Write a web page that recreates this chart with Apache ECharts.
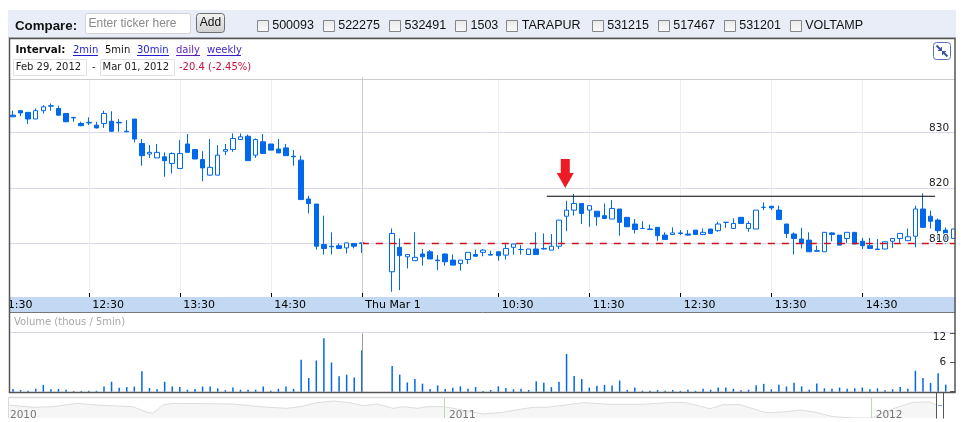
<!DOCTYPE html>
<html>
<head>
<meta charset="utf-8">
<style>html,body{margin:0;padding:0;background:#fff}#c{width:966px;height:422px}</style>
<script src="https://cdn.jsdelivr.net/npm/echarts@6/dist/echarts.min.js"></script>
</head>
<body>
<div id="c"></div>
<script>
const categories = ['11:40','11:45','11:50','11:55','12:00','12:05','12:10','12:15','12:20','12:25','12:30','12:35','12:40','12:45','12:50','12:55','13:00','13:05','13:10','13:15','13:20','13:25','13:30','13:35','13:40','13:45','13:50','13:55','14:00','14:05','14:10','14:15','14:20','14:25','14:30','14:35','14:40','14:45','14:50','14:55','15:00','15:05','15:10','15:15','15:20','15:25','Thu Mar 1','9:05','9:10','9:15','9:20','9:25','9:30','9:35','9:40','9:45','9:50','9:55','10:00','10:05','10:10','10:15','10:20','10:25','10:30','10:35','10:40','10:45','10:50','10:55','11:00','11:05','11:10','11:15','11:20','11:25','11:30','11:35','11:40 ','11:45 ','11:50 ','11:55 ','12:00 ','12:05 ','12:10 ','12:15 ','12:20 ','12:25 ','12:30 ','12:35 ','12:40 ','12:45 ','12:50 ','12:55 ','13:00 ','13:05 ','13:10 ','13:15 ','13:20 ','13:25 ','13:30 ','13:35 ','13:40 ','13:45 ','13:50 ','13:55 ','14:00 ','14:05 ','14:10 ','14:15 ','14:20 ','14:25 ','14:30 ','14:35 ','14:40 ','14:45 ','14:50 ','14:55 ','15:00 ','15:05 ','15:10 ','15:15 ','15:20 ','15:25 ','15:30 '];
const tickLabels = ['12:30','13:30','14:30','Thu Mar 1','10:30','11:30','12:30 ','13:30 ','14:30 '];

const opens = [833.1,833.9,833.6,832.4,833.9,834.7,834.3,833.4,832.7,831.6,831.8,831.3,831.6,832,831.8,830.2,832.4,828,826.1,825.4,825.6,824.4,823.5,827.9,826.9,825.1,822.3,822.3,826.6,826.9,828.7,829.3,825.9,828.3,827.9,827,827.2,825.7,825,818,817.1,809.8,809.5,809.6,809.2,810,810.1,null,null,null,804.9,809.3,807.6,806.9,808.1,808.5,807,808.1,807,806.4,807.1,808,808.4,808,808.5,807.9,809.3,808.9,808,809,809.1,808.8,809.5,814.9,816,817.2,816,815.8,815,814.4,816.2,814.7,813.5,812.7,812.6,812.9,811.5,811.6,811.9,811.7,812.4,811.6,812.6,812.3,813.8,812.7,814.7,812.7,812.6,816.5,816.7,816,813.5,811.7,810.8,810.6,808.7,808.5,811.9,811.5,810.9,812,810.4,809.6,809,809,810.4,810.9,810.5,811.3,816.2,814.9,814.2,812.4,810.9];
const closes = [832.8,833.5,832.4,833.9,834.6,834.8,833.1,831.9,832.6,831.2,831.7,830.8,833.4,830.2,831.7,830.1,828.8,825.8,826.4,826.4,824.9,826.2,826.2,826.4,825.2,823.6,823.7,825.9,826.9,828.9,829.2,824.9,828.7,826.2,826.8,826.3,825.8,825.6,817.9,817.2,809.5,809.1,809.4,809.1,810.1,809.5,810,null,null,null,811.8,807.8,808,807.5,807.6,807.2,806.9,806.7,806.1,807,808.4,807.7,808.8,807.9,807.8,809.1,809.9,808.9,809,808,809,809.5,814.2,816,817.2,815.4,816.8,814.8,814.5,816.3,813.8,813,812.5,812.7,812.5,811.4,810.7,811.9,811.8,811.5,811.6,812,811.8,813.5,813.8,813.6,813.6,813.6,816,816.5,816.4,814.3,811.8,810.9,810,808.5,808.6,812,811.6,809.7,812,809.9,809.6,809.1,808.9,810.3,810.9,811.8,811.2,816.2,812.9,814,812.3,810.5,812.6];
const lows = [832.8,832.9,831.5,832.4,833.4,833.9,833,831.9,831.9,831.1,831.3,830.7,830.8,830.1,830.1,830.1,828.2,824,825.4,825.4,822,822.6,823.5,826.4,825.2,821.2,822.2,822.3,825.9,826.5,828.6,824.9,825.4,826.2,826.8,826.3,825.8,824,817.9,815.4,808.9,808,808,809.1,808.2,809.1,808.3,null,null,null,801.3,801.6,805.5,806.9,806,807.2,805.2,806,806.1,805.1,806.3,807.6,807.7,807.9,806.9,807.1,808,808,808,808,808.9,808.8,809,812.2,815,813.5,813,813.2,814.5,814.4,811.4,813,811.8,812.7,812.5,810.5,810.7,811.6,811.5,811.4,811.6,811.6,811.8,812.1,812.8,812.7,813.6,812.1,812.6,816,816,814.3,811,808,809.1,808.5,808.6,808.5,810.4,809.7,810.1,809.9,809,809.1,808.8,809,809.2,810.1,810.5,809.3,812.9,812.7,810,810,810.9];
const highs = [833.9,834,833.6,834.3,834.9,835.2,834.8,833.4,832.7,831.9,832.7,831.9,833.9,833.8,832.4,832.2,832.4,828.8,827.7,827.9,826.4,826.4,828.6,829.7,826.9,826.6,828.8,827.7,827.9,829.8,829.8,829.6,828.9,829.7,827.9,828.8,827.9,826.8,825.8,818.6,817.1,815,812,810,810.1,810,810.1,null,null,null,812.7,810.9,808,812,809,808.8,807.9,808.2,808,807,808.4,808.9,809,808.7,808.5,809.9,809.9,809.7,809,812,811.8,811.7,814.2,817.7,818.9,817.2,816.8,815.8,817.2,817.8,816.2,814.7,814.4,814,813.4,812.9,812,812.9,812.4,812.4,812.4,812.7,812.6,813.9,813.8,814.5,814.7,814,816,817.4,816.7,816.8,813.5,812,812.8,812,809.6,812,812,811.5,812,812,811,811,810.8,810.3,810.9,811.8,812.7,816.8,819,815.9,814.5,812.9,812.6];
const volumes = [0.55,0.35,0.2,0.6,1.4,0.5,0.55,0.4,0.15,0.15,0.2,0.2,1.05,2.05,0.8,0.95,1.05,4.2,0.75,0.5,2.05,1.05,0.95,0.4,0.55,1.05,1.05,0.7,0.3,0.85,0.4,0.4,0.4,1.05,0.2,0.6,1.05,0.6,6.55,2.8,6.4,11,6,3.2,3.5,2.9,8.5,null,null,null,5.3,3.5,1.9,2.6,1.65,0.55,1.3,0.55,0.8,1.1,0.6,0.95,0.15,0.35,1.1,0.75,0.5,0.6,0.35,2.15,1.85,0.95,2.05,7.75,3.25,2.6,0.85,1.2,1.4,1.25,2.3,0.35,0.85,0.2,0.2,0.35,0.2,0.35,0.2,0.4,0.2,0.6,0.4,0.85,0.85,0.6,0.3,0.4,1.3,1.6,0.5,1.45,1.05,1.85,1.1,0.4,1.7,0.7,0.6,0.85,0.6,0.7,0.85,0.5,0.7,0.3,0.5,0.95,0.6,4.3,2.8,1.8,3.8,1.45,null];

const previousClose = 810;
const dayBoundaryIndex = 46;
const resistanceLevel = 818.5;
const resistanceFrom = 70.4;
const resistanceTo = 121.6;
const arrowIndex = 72.83;
const arrowPrice = 822.6;

const overviewX = [0,24,44,68,88,124,138,144,154,164,224,258,278,291,308,324,341,354,368,384,394,408,418,434,444,474,494,507,524,537,554,574,601,634,664,677,701,714,731,757,774,791,807,824,847,862,887,904,921,927];
const overviewLevels = [13,10.7,11.3,14.7,13,11.3,5.7,5,13,14.7,14,10.7,9.7,11.3,15.3,17,15.3,12.3,14,9.7,11.3,9.7,11.3,11.3,9.7,4,5.7,8,10.7,10.7,12.7,15.3,13.7,13.7,15.7,15.3,9.3,13.3,13.3,5.3,6,8,5.7,1.3,0,0,10.3,15.7,16,13];

const compareTickers = ['500093','522275','532491','1503','TARAPUR','531215','517467','531201','VOLTAMP'];
const compareX = [256.7,322.7,389,455,506.3,591.7,657.7,723.7,789.7];
const yearLabels = ['2010','2011','2012'];

const BLUE = '#0068EA';
const V = '"DejaVu Sans",Verdana,sans-serif';
const A = '"Liberation Sans",Arial,sans-serif';

function txt(text, x, y, font, fill, z, align) {
  return {type:'text', z:z||8, silent:true, style:{x:x, y:y, text:text, font:font, fill:fill, textVerticalAlign:'middle', textAlign:align||'left'}};
}
function box(x, y, w, h, fill, stroke, z, r) {
  return {type:'rect', z:z||8, silent:true, shape:{x:x, y:y, width:w, height:h, r:r||0}, style:{fill:fill, stroke:stroke||null, lineWidth:1}};
}
function seg(x1, y1, x2, y2, stroke, z, w) {
  return {type:'line', z:z||8, silent:true, shape:{x1:x1, y1:y1, x2:x2, y2:y2}, style:{stroke:stroke, lineWidth:w||1}};
}
function vgrad(a, b) {
  return {type:'linear', x:0, y:0, x2:0, y2:1, colorStops:[{offset:0,color:a},{offset:1,color:b}]};
}

const chrome = [
  box(9, 39, 946, 40, '#fff', null, 3),
  seg(10, 79.5, 955, 79.5, '#CDCDCD', 3),
  box(10, 297, 946, 15, '#C3D9F3', null, 3),
  txt('11:30', 0.8, 305.5, '11px '+V, '#000', 5),
  box(0, 296, 9.5, 17, '#fff', null, 6),
  seg(10, 312.5, 955, 312.5, '#777', 6),
  seg(11, 332.5, 955, 332.5, '#D8D6EE', 3),
  txt('Volume (thous / 5min)', 14, 322.5, '10px '+V, '#A8A8A8', 6),
  box(955.5, 0, 11, 422, '#fff', null, 7),
  box(8, 10, 948, 27.5, '#E8EDF8', null, 8),
  seg(8, 37.5, 956, 37.5, '#BFC3CC', 8),
  txt('Compare:', 15, 26, 'bold 13.3px '+A, '#111', 9),
  box(85.5, 13.5, 105, 20, '#fff', '#D4D4D4', 9, 2),
  txt('Enter ticker here', 88.5, 23.5, '12px '+A, '#8A8A8A', 9),
  box(196.5, 13.5, 28, 19, vgrad('#F4F4F4','#CFCFCF'), '#6E6E6E', 9, 3),
  txt('Add', 210.5, 22.5, '12px '+A, '#111', 9, 'center'),
  {type:'rect', z:10, silent:true, shape:{x:9.5, y:38.5, width:945.5, height:354}, style:{fill:null, stroke:'#555', lineWidth:1.5}},
  txt('Interval:', 15.5, 50.5, 'bold 10.4px '+V, '#111', 9),
  txt('2min', 73, 50.5, '10px '+V, '#1F1FCC', 9),
  seg(73, 55.5, 98, 55.5, '#1F1FCC', 9),
  txt('5min', 105, 50.5, '10px '+V, '#111', 9),
  txt('30min', 137, 50.5, '10px '+V, '#1F1FCC', 9),
  seg(137, 55.5, 169, 55.5, '#1F1FCC', 9),
  txt('daily', 176, 50.5, '10px '+V, '#5A1FB8', 9),
  seg(176, 55.5, 200, 55.5, '#5A1FB8', 9),
  txt('weekly', 207, 50.5, '10px '+V, '#3A1FC8', 9),
  seg(207, 55.5, 241, 55.5, '#3A1FC8', 9),
  box(13.5, 59.5, 73, 16, '#fff', '#E2E2E2', 9),
  txt('Feb 29, 2012', 15.7, 67.5, '10px '+V, '#222', 9),
  txt('-', 92, 67.5, '10px '+V, '#222', 9),
  box(100.5, 59.5, 74, 16, '#fff', '#E2E2E2', 9),
  txt('Mar 01, 2012', 102.5, 67.5, '10px '+V, '#222', 9),
  txt('-20.4 (-2.45%)', 179, 67.5, '10px '+V, '#C8103C', 9),
  box(933.5, 42.5, 17, 17, '#fff', '#5A70C4', 9, 3),
  seg(936.5, 45.5, 940, 49, '#3A52A8', 9, 2),
  {type:'polygon', z:9, silent:true, shape:{points:[[942,51],[942,46.5],[937.5,51]]}, style:{fill:'#3A52A8'}},
  seg(947.5, 56.5, 944, 53, '#3A52A8', 9, 2),
  {type:'polygon', z:9, silent:true, shape:{points:[[942,51],[942,55.5],[946.5,51]]}, style:{fill:'#3A52A8'}},
  seg(8, 397.5, 936, 397.5, '#DADADA', 5, 1.5),
  seg(8.5, 397, 8.5, 418, '#DADADA', 5),
  seg(444.5, 398, 444.5, 418, '#BFD8B8', 5),
  seg(871.5, 398, 871.5, 418, '#BFD8B8', 5),
  seg(936.5, 393, 936.5, 419, '#555', 5),
  seg(943.5, 393, 943.5, 419, '#555', 5),
  seg(938, 405.5, 942, 405.5, '#7FA7DC', 5),
  box(0, 418.5, 966, 4, '#fff', null, 6),
  txt(yearLabels[0], 10, 415, '10.5px '+V, '#777', 7),
  txt(yearLabels[1], 449, 415, '10.5px '+V, '#777', 7),
  txt(yearLabels[2], 875.7, 415, '10.5px '+V, '#777', 7)
];
compareTickers.forEach(function (t, i) {
  const x = compareX[i];
  chrome.push(box(Math.round(x)+0.5, 20.5, 11, 11, vgrad('#E9E9E9','#FBFBFB'), '#868686', 9));
  chrome.push(txt(t, x+15.5, 25.5, '12.5px '+A, '#111', 9));
});

const candleData = categories.map(function (_, i) {
  return opens[i] == null ? ['-','-','-','-'] : [opens[i], closes[i], lows[i], highs[i]];
});
const tickFilter = function (i, v) { return tickLabels.indexOf(v) >= 0; };
const GRID_LEFT = 9.2, GRID_WIDTH = 947.9;

const option = {
  animation:false,
  backgroundColor:'#fff',
  grid:[
    {left:GRID_LEFT, width:GRID_WIDTH, top:76.8, height:222.2},
    {left:GRID_LEFT, width:GRID_WIDTH, top:333.3, height:58.4},
    {left:9, width:927, top:397, height:21},
    {left:GRID_LEFT, width:GRID_WIDTH, top:80, height:217}
  ],
  xAxis:[
    {type:'category', gridIndex:0, data:categories, z:5, offset:-2, boundaryGap:true,
      axisLine:{show:false, onZero:false},
      axisTick:{show:true, inside:true, length:4, alignWithLabel:true, interval:tickFilter, lineStyle:{color:'#000'}},
      axisLabel:{show:true, interval:tickFilter, margin:3, align:'left', verticalAlign:'top', padding:[0,0,0,3.5],
        color:'#000', fontFamily:V, fontSize:11, hideOverlap:false, formatter:function (v) { return v.trim(); }},
      splitLine:{show:false}},
    {type:'value', gridIndex:0, min:-0.5, max:124.5, show:false},
    {type:'category', gridIndex:1, data:categories, show:false},
    {type:'value', gridIndex:2, min:0, max:927, show:false},
    {type:'category', gridIndex:3, data:categories, z:0,
      axisLine:{show:false, onZero:false}, axisTick:{show:false}, axisLabel:{show:false},
      splitLine:{show:true, alignWithLabel:true, interval:tickFilter, lineStyle:{color:'#EEEEF2', width:1}}}
  ],
  yAxis:[
    {type:'value', gridIndex:0, position:'right', min:800, max:840, interval:10, z:0,
      axisLine:{show:false}, axisTick:{show:false}, axisLabel:{show:false},
      splitLine:{show:true, lineStyle:{color:'#DAD8EE', width:1}}},
    {type:'value', gridIndex:0, position:'right', min:800, max:840, interval:10, z:5,
      axisLine:{show:false}, axisTick:{show:false}, splitLine:{show:false},
      axisLabel:{inside:true, margin:8, verticalAlign:'bottom', lineHeight:9, color:'#222', fontFamily:V, fontSize:10.5,
        textBorderColor:'#fff', textBorderWidth:2,
        formatter:function (v) { return (v === 800 || v === 840) ? '' : String(v); }}},
    {type:'value', gridIndex:1, position:'right', min:0, max:12, interval:6, z:5,
      axisLine:{show:false}, splitLine:{show:false},
      axisTick:{show:true, inside:true, length:7, lineStyle:{color:'#555'}},
      axisLabel:{inside:true, margin:11, color:'#222', fontFamily:V, fontSize:10.5,
        rich:{top:{padding:[7,0,0,0], color:'#222', fontFamily:V, fontSize:10.5}},
        formatter:function (v) { return v === 0 ? '' : (v === 12 ? '{top|12}' : String(v)); }}},
    {type:'value', gridIndex:2, min:0, max:21, show:false},
    {type:'value', gridIndex:3, min:0, max:1, show:false}
  ],
  series:[
    {name:'Price', type:'candlestick', xAxisIndex:0, yAxisIndex:0, data:candleData, barWidth:5, z:2,
      itemStyle:{color:'#fff', color0:BLUE, borderColor:BLUE, borderColor0:BLUE, borderColorDoji:BLUE, borderWidth:1},
      markLine:{silent:true, symbol:'none', label:{show:false}, animation:false,
        lineStyle:{color:'#CFCFCF', type:'solid', width:1},
        data:[{xAxis:categories[dayBoundaryIndex]}]}},
    {name:'Previous close', type:'line', xAxisIndex:1, yAxisIndex:0, z:3, symbol:'none',
      data:[[dayBoundaryIndex, previousClose],[124.5, previousClose]],
      lineStyle:{color:'#C8141E', width:1.6, type:[7,7]}},
    {name:'Resistance', type:'line', xAxisIndex:1, yAxisIndex:0, z:3, symbol:'none',
      data:[[resistanceFrom, resistanceLevel],[resistanceTo, resistanceLevel]],
      lineStyle:{color:'#000', width:1.2}},
    {name:'Arrow', type:'scatter', xAxisIndex:1, yAxisIndex:0, z:3, silent:true,
      symbol:'path://M4 0H13V14H17L8.5 29L0 14H4Z', symbolSize:[17,29], symbolKeepAspect:false,
      data:[[arrowIndex, arrowPrice]], itemStyle:{color:'#ED1C24', opacity:1}},
    {name:'Volume', type:'bar', xAxisIndex:2, yAxisIndex:2, data:volumes, barWidth:1.5, z:2,
      itemStyle:{color:BLUE},
      markLine:{silent:true, symbol:'none', label:{show:false}, animation:false,
        lineStyle:{color:'#9A9A9A', type:'solid', width:1},
        data:[{xAxis:categories[dayBoundaryIndex]}]}},
    {name:'Overview', type:'line', xAxisIndex:3, yAxisIndex:3, symbol:'none', z:2,
      data:overviewX.map(function (x, i) { return [x, overviewLevels[i]]; }),
      lineStyle:{color:'#DDDDDD', width:1}, areaStyle:{color:'#F6F6F6', opacity:1}}
  ],
  graphic:{elements:chrome}
};
const chart = echarts.init(document.getElementById('c'), null, {renderer:'canvas', width:966, height:422});
chart.setOption(option);
</script>
</body>
</html>
